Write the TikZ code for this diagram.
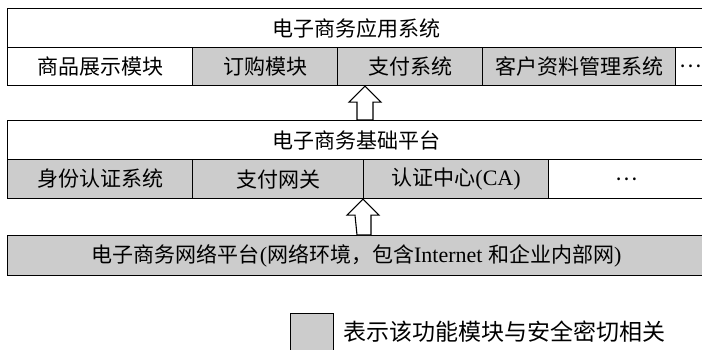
\documentclass[tikz,border=0pt]{standalone}
\usepackage{fontspec}
\setmainfont{Liberation Serif}
\newfontfamily\cjk{Noto Sans CJK SC}
\usetikzlibrary{calc}
\definecolor{secgray}{gray}{0.80}
\newcommand{\lat}[1]{{\rmfamily\fontsize{22}{24}\selectfont #1}}
\tikzset{
  cell/.style={draw=black, line width=1.1pt, inner sep=0pt, anchor=north west,
    font=\cjk\fontsize{21}{24}\selectfont},
  sec/.style={cell, fill=secgray},
  blockarrow/.style={draw=black, line width=1.1pt, fill=white},
}
\begin{document}
\begin{tikzpicture}[x=1pt,y=-1pt]
\useasboundingbox (0,0) rectangle (702,350);
% application layer
\node[cell, minimum width=698pt, minimum height=39pt] (apphead) at (7,8) {电子商务应用系统};
\node[cell, minimum width=185pt, minimum height=38pt] (goods) at (7,47) {商品展示模块};
\node[sec, minimum width=145pt, minimum height=38pt] (order) at (192,47) {订购模块};
\node[sec, minimum width=145pt, minimum height=38pt] (pay) at (337,47) {支付系统};
\node[sec, minimum width=193pt, minimum height=38pt] (crm) at (482,47) {客户资料管理系统};
\node[cell, minimum width=30pt, minimum height=38pt] (appmore) at (675,47) {…};
% base platform
\node[cell, minimum width=698pt, minimum height=39pt] (basehead) at (7,120) {电子商务基础平台};
\node[sec, minimum width=185pt, minimum height=39pt] (ident) at (7,159) {身份认证系统};
\node[sec, minimum width=171pt, minimum height=39pt] (gate) at (192,159) {支付网关};
\node[sec, minimum width=185pt, minimum height=39pt] (ca) at (363,159) {认证中心\lat{(CA)}};
\node[cell, minimum width=157pt, minimum height=39pt] (basemore) at (548,159) {…};
% network platform
\node[sec, minimum width=698pt, minimum height=40pt] (net) at (7,235)
  {电子商务网络平台\lat{(}网络环境，包含\lat{Internet }和企业内部网\lat{)}};
% block arrows
\coordinate (t1) at (pay.south west -| 365,0);
\draw[blockarrow] (t1) -- ++(16,16) -- ++(-8,0) |- (basehead.north -| 357,0)
  -- ($(t1)+(-8,16)$) -- ++(-8,0) -- cycle;
\coordinate (t3) at (ca.south west);
\draw[blockarrow] (t3) -- ++(16,16) -- ++(-8,0) |- (net.north -| 357,0)
  -- ($(t3)+(-8,16)$) -- ++(-8,0) -- cycle;
% legend
\node[sec, minimum width=43pt, minimum height=37pt] (legbox) at (290,313) {};
\node[anchor=west, inner sep=0pt, font=\cjk\fontsize{23}{26}\selectfont] (legtext) at (343,332) {表示该功能模块与安全密切相关};
\end{tikzpicture}
\end{document}
